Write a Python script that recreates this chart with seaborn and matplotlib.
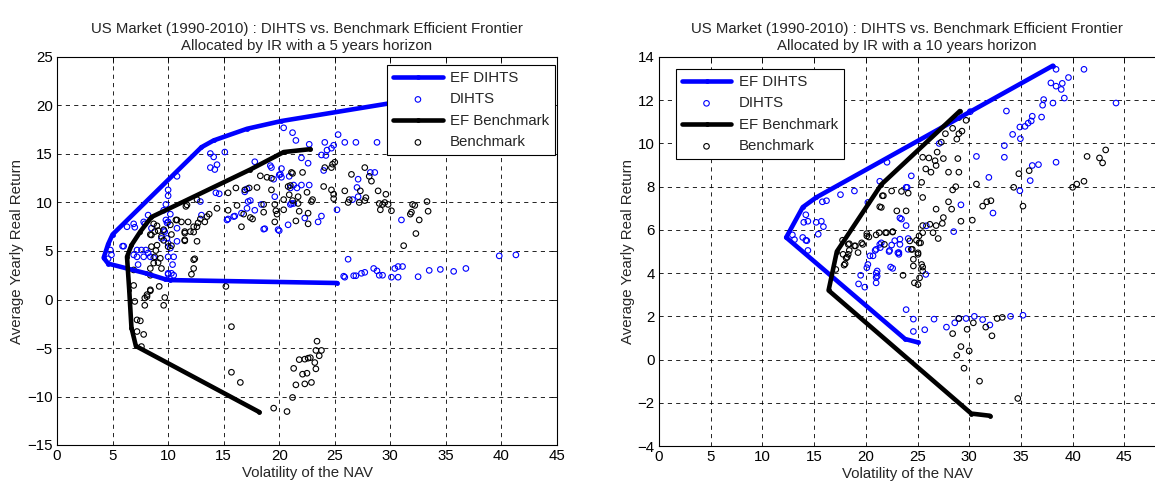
import matplotlib
matplotlib.use('Agg')
import matplotlib.pyplot as plt
import seaborn as sns

# ---- left panel: 5 years horizon ----
ef_dihts5_vol = [25.2, 10.2, 9.7, 8.0, 4.6, 4.2, 4.6, 5.0, 13.0, 14.1, 17.1, 20.2, 33.0]
ef_dihts5_ret = [1.7, 2.0, 2.1, 2.7, 3.7, 4.3, 5.7, 6.7, 15.7, 16.4, 17.6, 18.4, 20.8]
ef_bench5_vol = [18.2, 7.1, 6.7, 6.5, 6.3, 6.7, 7.5, 8.5, 17.4, 20.4, 22.8]
ef_bench5_ret = [-11.6, -4.8, -2.9, 1.0, 4.4, 5.6, 7.0, 8.5, 13.4, 15.2, 15.5]

dihts5_vol = [20.4, 21.2, 21.5, 13.8, 14.1, 15.1, 13.8, 14.2, 14.4, 10.8, 10.0, 10.0, 9.8, 14.3, 14.6, 12.9,
              8.2, 7.9, 6.9, 6.3, 6.0, 4.8, 4.9, 17.8, 19.2, 19.3, 20.1, 20.2, 20.9, 21.0, 21.6, 19.6, 21.0,
              21.3, 17.2, 18.4, 17.8, 17.1, 16.0, 15.4, 18.7, 20.0, 20.8, 13.0, 9.6, 10.0, 10.8, 9.7, 9.4,
              10.0, 10.8, 8.5, 7.6, 6.9, 8.2, 10.2, 7.8, 7.0, 9.8, 9.9, 9.6, 7.2, 8.0, 7.2, 7.8, 8.7, 10.0,
              10.2, 10.4, 7.3, 10.3, 10.0, 9.9, 16.9, 17.1, 15.3, 15.9, 25.3, 24.1, 25.9, 26.9, 28.8, 22.7,
              23.8, 24.2, 24.9, 24.7, 24.3, 22.0, 22.6, 20.2, 20.0, 19.5, 24.0, 28.2, 28.6, 27.1, 27.0, 27.1,
              26.6, 21.3, 22.0, 22.7, 21.1, 17.4, 16.6, 18.6, 19.9, 22.3, 23.5, 23.8, 25.2, 31.0, 26.2, 25.9,
              26.7, 26.9, 27.4, 27.7, 28.5, 28.8, 29.0, 29.3, 30.1, 30.7, 30.4, 30.7, 31.1, 32.5, 39.8, 41.3,
              33.5, 34.5, 35.7, 36.8, 5.9, 4.6, 8.4, 10.5, 10.0, 10.5, 25.8]
dihts5_ret = [17.7, 17.2, 16.4, 15.05, 14.7, 15.2, 13.6, 13.4, 13.9, 12.7, 11.3, 10.7, 9.8, 11.0, 10.9, 10.1,
              8.7, 7.8, 7.8, 7.5, 5.5, 5.1, 4.6, 14.2, 13.8, 13.6, 12.9, 12.6, 12.7, 11.5, 11.5, 10.6, 9.8,
              9.9, 10.1, 9.8, 9.2, 9.4, 8.6, 8.3, 7.3, 7.1, 7.7, 8.7, 9.2, 8.0, 7.35, 7.0, 6.3,
              5.8, 6.0, 7.35, 5.1, 4.6, 4.8, 8.8, 8.0, 7.45, 8.2, 7.9, 7.1, 5.1, 5.1, 4.4, 4.4, 4.3, 4.4,
              5.3, 3.6, 3.6, 2.7, 2.7, 6.3, 11.1, 11.4, 8.2, 8.55, 17.0, 16.2, 16.2, 16.2, 16.2, 16.0,
              14.9, 14.85, 15.9, 15.6, 15.4, 14.6, 14.05, 13.5, 12.85, 12.4, 13.3, 13.1, 13.1, 12.4, 11.55, 10.6,
              10.3, 11.8, 11.8, 11.8, 9.9, 10.2, 8.9, 7.25, 7.2, 8.4, 8.0, 8.6, 9.25, 8.2, 4.15, 2.3,
              2.45, 2.45, 2.7, 2.8, 3.2, 2.95, 2.5, 2.5, 2.3, 2.3, 3.2, 3.4, 3.4, 2.35, 4.5, 4.6,
              3.0, 3.1, 2.9, 3.2, 5.5, 4.2, 4.4, 4.4, 2.6, 2.5, 2.4]

bench5_vol = [16.1, 15.4, 16.2, 15.4, 16.8, 16.6, 14.4, 13.5, 13.3, 12.9, 12.7, 12.3, 11.8, 11.2, 10.8, 11.6,
              12.6, 12.0, 11.5, 12.6, 11.5, 10.3, 10.2, 9.6, 9.1, 8.7, 8.5, 9.4, 9.0, 8.5, 10.3, 8.8, 9.3,
              9.1, 9.4, 8.7, 8.4, 12.4, 12.3, 8.4, 6.9, 8.4, 8.1, 7.9, 9.7, 9.6, 7.9, 9.2, 15.2, 7.0, 8.1,
              7.2, 7.5, 7.8, 7.2, 7.6, 15.7, 15.7, 16.5, 19.5, 20.7, 21.2, 21.5, 22.3, 21.3, 22.1, 22.5, 22.9,
              21.8, 22.3, 22.6, 22.8, 23.2, 23.3, 23.3, 23.6, 23.8, 23.4, 6.9, 12.1, 8.4, 27.7, 28.1, 28.3,
              26.5, 25.0, 24.8, 24.7, 24.1, 22.1, 21.2, 18.3, 18.9, 19.3, 21.0, 24.0, 24.7, 24.9, 25.9, 27.3,
              27.8, 27.7, 26.3, 26.2, 27.2, 24.9, 23.0, 22.9, 22.5, 21.7, 21.2, 20.4, 21.7, 22.6, 21.8, 22.6,
              21.5, 20.4, 19.6, 19.7, 19.8, 19.6, 19.3, 18.6, 16.9, 18.0, 18.6, 17.6, 17.4, 20.9, 29.0, 29.3,
              29.5, 29.8, 29.6, 28.9, 29.1, 30.1, 31.9, 32.0, 32.2, 32.3, 31.2, 33.3, 33.4, 32.6, 31.8, 21.1,
              20.8, 17.3, 13.7, 11.7, 10.7, 12.6, 12.3, 11.5, 11.5, 9.0, 8.8, 8.4, 9.6, 10.0, 8.9, 12.3]
bench5_ret = [11.5, 11.0, 9.7, 9.2, 8.8, 7.5, 9.4, 8.55, 8.0, 8.3, 7.9, 7.5, 8.0, 8.0, 8.2, 9.6,
              10.3, 7.0, 7.0, 6.0, 6.15, 6.7, 7.7, 7.2, 7.1, 7.8, 6.65, 6.5, 5.6, 5.45, 5.55, 4.4, 4.25,
              3.8, 3.2, 3.75, 3.2, 4.2, 3.2, 2.5, 1.45, 1.0, 0.5, 0.15, 0.2, -0.6, -0.6, 1.35, 1.35, -0.2, 0.3,
              -2.1, -2.2, -3.6, -3.3, -4.85, -2.8, -7.5, -8.55, -11.2, -11.55, -10.1, -8.8, -8.7, -7.1, -7.7, -7.6, -8.55,
              -6.2, -6.15, -6.05, -6.0, -6.5, -7.15, -5.25, -5.8, -5.25, -4.3, 3.05, 2.6, 0.9, 13.6, 12.7, 12.2,
              12.9, 14.15, 13.95, 13.6, 13.6, 13.1, 13.0, 12.75, 12.6, 12.5, 11.75, 11.65, 11.3, 10.85, 11.2, 11.2,
              10.5, 10.2, 10.3, 10.0, 10.0, 10.4, 10.3, 10.1, 11.05, 10.6, 10.2, 10.3, 9.9, 8.9, 9.1, 7.8,
              8.1, 9.25, 9.8, 9.15, 8.8, 8.0, 11.3, 9.8, 11.3, 11.55, 9.0, 8.3, 8.45, 10.8, 9.9, 9.8,
              10.0, 9.8, 10.85, 11.2, 9.25, 9.15, 9.0, 9.8, 9.7, 6.8, 5.55, 10.1, 9.1, 8.2, 8.8, 13.1,
              11.65, 11.5, 8.8, 9.75, 8.2, 7.5, 6.95, 6.85, 6.05, 7.6, 7.0, 6.7, 6.1, 5.45, 5.05, 4.1]

# ---- right panel: 10 years horizon ----
ef_dihts10_vol = [25.0, 23.8, 12.3, 13.9, 15.2, 38.1]
ef_dihts10_ret = [0.8, 0.95, 5.65, 7.05, 7.5, 13.6]
ef_bench10_vol = [32.0, 30.2, 16.4, 17.2, 21.5, 29.1]
ef_bench10_ret = [-2.6, -2.5, 3.2, 5.0, 8.1, 11.5]

dihts10_vol = [17.55, 18.9, 15.8, 16.2, 14.2, 14.0, 14.4, 15.2, 15.7, 15.9, 15.4, 13.9, 14.3, 14.4, 13.1,
               20.2, 21.35, 22.05, 23.9, 24.4, 23.9, 23.3, 20.4, 21.0, 21.35, 21.5, 22.25, 22.5, 22.8, 23.3,
               23.2, 24.1, 24.1, 14.2, 12.9, 20.9, 20.7, 20.2, 20.1, 19.5, 19.3, 19.9, 21.1, 21.1, 21.0,
               21.0, 21.0, 22.4, 22.6, 23.2, 23.9, 24.6, 24.6, 25.7, 26.6, 25.8, 38.4, 41.1, 44.2, 37.9,
               38.4, 39.0, 38.9, 39.6, 39.2, 38.1, 37.1, 37.2, 37.0, 36.1, 36.0, 35.7, 35.4, 34.9, 34.95,
               34.2, 33.6, 33.4, 33.4, 30.7, 31.9, 34.9, 35.9, 36.1, 36.7, 38.4, 32.3, 29.2, 27.1, 25.85,
               23.45, 24.0, 28.5, 30.1, 23.3, 21.4, 23.1, 22.3, 29.0, 29.7, 30.5, 34.0, 35.2, 27.8,
               28.6, 31.3, 32.0]
dihts10_ret = [7.63, 7.8, 7.3, 7.35, 6.7, 6.35, 6.4, 6.35, 6.4, 6.15, 5.8, 5.65, 5.5, 5.05, 5.55,
               7.27, 8.25, 9.13, 7.97, 8.5, 6.2, 6.55, 4.8, 5.1, 5.33, 5.4, 5.0, 5.3, 5.5, 5.33,
               4.95, 5.6, 5.1, 5.52, 5.77, 5.05, 4.8, 4.4, 4.25, 3.9, 3.5, 3.35, 4.1, 3.86, 4.0,
               3.8, 3.55, 4.28, 4.22, 4.87, 2.31, 1.87, 1.3, 1.38, 1.87, 3.94, 13.43, 13.43, 11.87, 12.8,
               12.65, 12.78, 12.5, 13.05, 12.1, 11.87, 11.77, 12.03, 11.22, 11.26, 11.04, 10.94, 10.79, 10.76, 10.22,
               10.42, 11.5, 9.9, 9.36, 9.4, 8.43, 7.81, 8.28, 8.98, 9.02, 9.13, 6.78, 7.16, 10.0, 6.19,
               6.5, 7.97, 5.92, 11.47, 5.57, 5.18, 4.94, 5.05, 1.9, 1.9, 2.0, 2.0, 2.05, 1.5,
               1.7, 1.85, 1.6]

bench10_vol = [18.1, 17.9, 18.3, 19.0, 19.25, 19.7, 23.6, 24.4, 24.6, 24.6, 25.05, 25.15, 25.2, 24.7, 25.05,
               25.4, 25.5, 25.5, 21.8, 20.1, 21.0, 18.4, 18.4, 17.8, 18.0, 17.1, 18.9, 29.0, 29.7, 29.3,
               29.0, 28.8, 28.4, 27.7, 27.3, 26.9, 25.5, 26.1, 26.7, 27.5, 28.9, 26.8, 25.8, 26.3, 28.0,
               29.0, 25.4, 28.7, 28.4, 22.5, 23.45, 24.1, 25.5, 28.0, 28.3, 26.8, 30.7, 34.3, 34.8, 35.8,
               35.2, 31.3, 31.7, 32.1, 30.3, 29.2, 27.5, 27.4, 26.8, 26.5, 26.2, 25.5, 27.0, 25.5, 25.15,
               24.9, 25.3, 25.05, 24.5, 24.25, 22.0, 22.6, 21.35, 21.7, 40.0, 40.4, 41.1, 41.4, 42.6, 42.9,
               43.2, 21.6, 21.5, 23.0, 23.9, 21.3, 21.9, 22.6, 20.3, 17.75, 18.3, 19.6, 20.1, 18.2,
               29.0, 32.7, 29.2, 31.0, 34.7, 28.4, 29.8, 30.4, 31.6, 32.2, 28.8, 30.0, 29.5, 33.2]
bench10_ret = [4.7, 4.37, 4.87, 5.26, 4.95, 5.33, 3.9, 5.1, 4.64, 4.33, 4.87, 5.4, 3.78, 3.55, 3.47,
               4.4, 4.28, 4.1, 5.33, 5.72, 5.77, 5.36, 5.05, 4.87, 4.43, 4.17, 5.26, 11.2, 11.07, 10.57,
               10.45, 10.2, 10.7, 10.45, 10.06, 9.6, 9.36, 9.33, 9.2, 9.3, 9.3, 8.98, 8.82, 8.67, 8.67,
               8.67, 8.2, 8.0, 7.85, 7.8, 7.78, 7.7, 7.5, 7.3, 6.96, 6.96, 8.12, 7.97, 8.6, 8.74,
               7.1, 7.1, 7.3, 7.35, 6.45, 6.4, 6.57, 6.3, 6.2, 5.87, 6.26, 6.2, 5.6, 5.87, 5.72,
               5.52, 5.4, 4.94, 5.1, 5.49, 5.87, 5.92, 7.07, 7.58, 7.97, 8.12, 8.25, 9.4, 9.33, 9.1,
               9.7, 7.58, 7.04, 6.88, 6.88, 5.87, 5.87, 5.9, 5.67, 5.52, 5.33, 5.4, 5.83, 4.74,
               1.9, 1.9, 0.6, -1.0, -1.8, 1.2, 1.4, 1.7, 1.5, 1.1, 0.2, 0.4, -0.4, 1.95]

title_top = 'US Market (1990-2010) : DIHTS vs. Benchmark Efficient Frontier'
font_size = 10.8

sns.set_theme(style='white')
plt.rcParams['font.family'] = ['Liberation Sans', 'DejaVu Sans']
plt.rcParams['font.size'] = font_size


def draw_panel(ax, ef_d, d, ef_b, b, years):
    sns.lineplot(x=ef_d[0], y=ef_d[1], ax=ax, sort=False, estimator=None, color=(0, 0, 1),
                 linewidth=3.3, marker='.', markersize=7, markeredgewidth=0, label='EF DIHTS', zorder=3)
    sns.scatterplot(x=d[0], y=d[1], ax=ax, marker='o', s=16, color=(0, 0, 1), facecolor='none',
                    edgecolor=(0, 0, 1), linewidth=0.8, label='DIHTS', zorder=2)
    sns.lineplot(x=ef_b[0], y=ef_b[1], ax=ax, sort=False, estimator=None, color='black',
                 linewidth=3.3, marker='.', markersize=7, markeredgewidth=0, label='EF Benchmark', zorder=3)
    sns.scatterplot(x=b[0], y=b[1], ax=ax, marker='o', s=16, color='black', facecolor='none',
                    edgecolor='black', linewidth=0.8, label='Benchmark', zorder=2)
    ax.set_title(title_top + '\nAllocated by IR with a %d years horizon' % years,
                 fontsize=font_size, pad=5, linespacing=1.3)
    ax.set_xlabel('Volatility of the NAV', fontsize=font_size, labelpad=2)
    ax.set_ylabel('Average Yearly Real Return', fontsize=font_size, labelpad=2)
    ax.grid(True, color='black', linestyle=(0, (5, 5)), linewidth=0.6)
    ax.set_axisbelow(True)
    ax.tick_params(direction='in', top=True, right=True, length=4, width=0.6,
                   labelsize=font_size, colors='black', pad=3)
    for sp in ax.spines.values():
        sp.set_color('black')
        sp.set_linewidth(0.8)


fig = plt.figure(figsize=(11.55, 4.87), dpi=100)
ax1 = fig.add_axes([57 / 1155, 42 / 487, 500 / 1155, 388 / 487])
ax2 = fig.add_axes([659 / 1155, 41 / 487, 517 / 1155, 389 / 487])

draw_panel(ax1, (ef_dihts5_vol, ef_dihts5_ret), (dihts5_vol, dihts5_ret),
           (ef_bench5_vol, ef_bench5_ret), (bench5_vol, bench5_ret), 5)
ax1.set_xlim(0, 45)
ax1.set_ylim(-15, 25)
ax1.set_xticks(range(0, 46, 5))
ax1.set_yticks(range(-15, 26, 5))

draw_panel(ax2, (ef_dihts10_vol, ef_dihts10_ret), (dihts10_vol, dihts10_ret),
           (ef_bench10_vol, ef_bench10_ret), (bench10_vol, bench10_ret), 10)
# the right panel runs past the figure edge (cropped like the original export)
ax2.set_xlim(0, 50)
ax2.set_ylim(-4, 14)
ax2.set_xticks(range(0, 46, 5))
ax2.set_yticks(range(-4, 15, 2))
ax2.title.set_position(((1155 - 659) / 2 / 517, 1.0))
ax2.xaxis.label.set_x((1155 - 659) / 2 / 517)

leg_kw = dict(frameon=True, fancybox=False, framealpha=1, edgecolor='black', fontsize=font_size,
              borderaxespad=0, handlelength=3.3, labelspacing=0.5, borderpad=0.38, handletextpad=0.5)
h, l = ax1.get_legend_handles_labels()
leg1 = ax1.legend(h, l, loc='upper right', bbox_to_anchor=(0.996, 0.979), **leg_kw)
h, l = ax2.get_legend_handles_labels()
leg2 = ax2.legend(h, l, loc='upper left', bbox_to_anchor=(0.033, 0.969), **leg_kw)
for leg in (leg1, leg2):
    leg.get_frame().set_linewidth(0.8)

fig.savefig('out.png', dpi=100)
